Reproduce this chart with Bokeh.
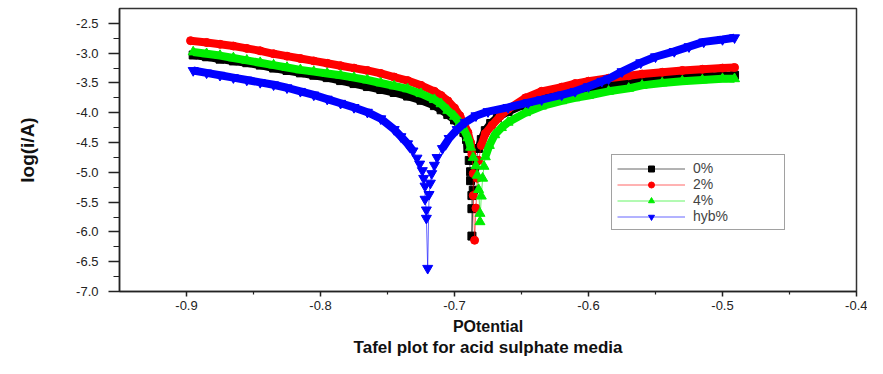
from bokeh.plotting import figure
from bokeh.models import (Range1d, FixedTicker, PrintfTickFormatter, Legend,
                          LegendItem, Title)
from bokeh.embed import file_html
from bokeh.resources import INLINE

# ---------------- data ----------------
series_names = ["0%", "2%", "4%", "hyb%"]

potential_0 = [-0.895, -0.885, -0.875, -0.865, -0.855, -0.845, -0.835, -0.825,
               -0.815, -0.805, -0.795, -0.785, -0.775, -0.765, -0.755, -0.745,
               -0.735, -0.725, -0.715, -0.710, -0.705, -0.700, -0.696, -0.693,
               -0.691, -0.690, -0.689, -0.688, -0.688, -0.687, -0.687, -0.687,
               -0.686, -0.685, -0.684, -0.682, -0.680, -0.677, -0.673, -0.668,
               -0.660, -0.650, -0.640, -0.630, -0.620, -0.610, -0.600, -0.590,
               -0.580, -0.570, -0.560, -0.550, -0.540, -0.530, -0.520, -0.510,
               -0.500, -0.491]
logi_0 = [-3.03, -3.06, -3.10, -3.13, -3.16, -3.20, -3.25, -3.29,
          -3.33, -3.37, -3.41, -3.46, -3.51, -3.56, -3.61, -3.66,
          -3.72, -3.79, -3.88, -3.95, -4.03, -4.12, -4.22, -4.33,
          -4.45, -4.60, -4.80, -4.99, -5.14, -5.39, -5.61, -6.07,
          -5.30, -5.00, -4.80, -4.60, -4.45, -4.30, -4.18, -4.08,
          -3.98, -3.88, -3.80, -3.73, -3.68, -3.63, -3.59, -3.56,
          -3.53, -3.50, -3.47, -3.45, -3.43, -3.41, -3.40, -3.39,
          -3.38, -3.37]

potential_2 = [-0.897, -0.885, -0.875, -0.865, -0.855, -0.845, -0.835, -0.825,
               -0.815, -0.805, -0.795, -0.785, -0.775, -0.765, -0.755, -0.745,
               -0.735, -0.725, -0.715, -0.710, -0.705, -0.700, -0.696, -0.693,
               -0.690, -0.688, -0.687, -0.686, -0.686, -0.685,
               -0.684, -0.683, -0.682, -0.680, -0.677, -0.672, -0.666, -0.660,
               -0.647, -0.635, -0.620, -0.610, -0.600, -0.585, -0.570, -0.560,
               -0.545, -0.530, -0.515, -0.500, -0.491]
logi_2 = [-2.79, -2.82, -2.85, -2.88, -2.92, -2.96, -3.01, -3.05,
          -3.09, -3.13, -3.17, -3.21, -3.25, -3.29, -3.34, -3.40,
          -3.46, -3.54, -3.64, -3.71, -3.80, -3.92, -4.05, -4.18,
          -4.33, -4.50, -4.70, -5.02, -5.39, -6.14,
          -5.60, -5.10, -4.80, -4.55, -4.35, -4.21, -4.06, -3.94,
          -3.75, -3.64, -3.57, -3.51, -3.47, -3.42, -3.38, -3.35,
          -3.32, -3.29, -3.27, -3.25, -3.24]

potential_4 = [-0.895, -0.885, -0.875, -0.865, -0.855, -0.845, -0.835, -0.825,
               -0.815, -0.805, -0.795, -0.785, -0.775, -0.765, -0.755, -0.745,
               -0.735, -0.725, -0.715, -0.710, -0.705, -0.700, -0.696, -0.693,
               -0.690, -0.688, -0.686, -0.684, -0.683, -0.682, -0.681, -0.681,
               -0.680, -0.679, -0.678, -0.677, -0.674, -0.670, -0.665, -0.660,
               -0.647, -0.635, -0.620, -0.610, -0.600, -0.585, -0.570, -0.560,
               -0.545, -0.530, -0.515, -0.500, -0.491]
logi_4 = [-2.98, -3.01, -3.04, -3.08, -3.12, -3.16, -3.20, -3.24,
          -3.28, -3.31, -3.34, -3.37, -3.41, -3.45, -3.50, -3.55,
          -3.60, -3.68, -3.78, -3.85, -3.96, -4.06, -4.17, -4.28,
          -4.42, -4.58, -4.75, -4.89, -5.05, -5.29, -5.69, -5.83,
          -5.40, -5.10, -4.90, -4.74, -4.55, -4.37, -4.25, -4.16,
          -4.00, -3.89, -3.80, -3.75, -3.71, -3.64, -3.59, -3.54,
          -3.50, -3.47, -3.45, -3.43, -3.43]

potential_h = [-0.895, -0.885, -0.875, -0.865, -0.855, -0.845, -0.835, -0.825,
               -0.815, -0.805, -0.795, -0.785, -0.775, -0.765, -0.755, -0.745,
               -0.740, -0.735, -0.731, -0.728, -0.726, -0.724, -0.723, -0.722,
               -0.722, -0.721, -0.721, -0.720,
               -0.719, -0.718, -0.717, -0.715, -0.713, -0.709, -0.704, -0.698,
               -0.692, -0.684, -0.675, -0.660, -0.645, -0.635, -0.620, -0.610,
               -0.600, -0.590, -0.585, -0.575, -0.561, -0.550, -0.536, -0.525,
               -0.514, -0.500, -0.491]
logi_h = [-3.29, -3.33, -3.37, -3.41, -3.45, -3.49, -3.53, -3.58,
          -3.64, -3.70, -3.77, -3.84, -3.91, -3.99, -4.10, -4.28,
          -4.40, -4.52, -4.64, -4.76, -4.86, -4.97, -5.10, -5.23,
          -5.45, -5.63, -5.77, -6.61,
          -5.37, -5.18, -5.02, -4.88, -4.75, -4.60, -4.43, -4.28,
          -4.16, -4.05, -3.98, -3.91, -3.83, -3.78, -3.70, -3.64,
          -3.56, -3.47, -3.43, -3.31, -3.16, -3.06, -2.97, -2.89,
          -2.81, -2.77, -2.74]

x_ticks = [-0.9, -0.8, -0.7, -0.6, -0.5, -0.4]
y_ticks = [-7.0, -6.5, -6.0, -5.5, -5.0, -4.5, -4.0, -3.5, -3.0, -2.5]

colors = ["#000000", "#ff0000", "#00ee00", "#0000ff"]
markers = ["square", "circle", "triangle", "inverted_triangle"]
marker_sizes = [8, 8, 10, 10]
xs = [potential_0, potential_2, potential_4, potential_h]
ys = [logi_0, logi_2, logi_4, logi_h]

FONT = "Liberation Sans"

p = figure(width=867, height=358, output_backend="svg", toolbar_location=None,
           x_range=Range1d(-0.95, -0.4), y_range=Range1d(-7.0, -2.25),
           min_border_left=119, min_border_right=11, min_border_top=8,
           min_border_bottom=61)
p.grid.visible = False
p.outline_line_color = "#333333"
p.outline_line_width = 1.5
p.background_fill_color = "white"
p.border_fill_color = "white"

items = []
for name, x, y, c, m, s in zip(series_names, xs, ys, colors, markers, marker_sizes):
    thick_y = [v if v > -4.75 else float("nan") for v in y]
    p.line(x, thick_y, line_width=8, line_color=c)
    thin = p.line(x, y, line_width=1, line_color=c, line_alpha=0.6)
    sc = p.scatter(x, y, marker=m, size=s, fill_color=c, line_color=c)
    items.append(LegendItem(label=name, renderers=[thin, sc]))

legend = Legend(items=items, location=(492, 61), orientation="vertical",
                border_line_color="#444444", border_line_width=1.5,
                padding=5, spacing=0, margin=0,
                glyph_width=68, glyph_height=15, label_height=15,
                label_standoff=8, label_width=86,
                label_text_font=FONT, label_text_font_size="14px",
                background_fill_color="white", background_fill_alpha=1.0)
p.add_layout(legend)

minor_x = [round((a + b) / 2, 3) for a, b in zip(x_ticks[:-1], x_ticks[1:])]
minor_y = [round((a + b) / 2, 3) for a, b in zip(y_ticks[:-1], y_ticks[1:])]

p.xaxis.ticker = FixedTicker(ticks=x_ticks, minor_ticks=minor_x)
p.yaxis.ticker = FixedTicker(ticks=y_ticks, minor_ticks=minor_y)
p.xaxis.formatter = PrintfTickFormatter(format="%.1f")
p.yaxis.formatter = PrintfTickFormatter(format="%.1f")

for ax in (p.xaxis[0], p.yaxis[0]):
    ax.axis_line_color = "#222222"
    ax.axis_line_width = 1.5
    ax.major_tick_line_color = "#222222"
    ax.minor_tick_line_color = "#222222"
    ax.major_tick_line_width = 1.5
    ax.minor_tick_line_width = 1.2
    ax.major_tick_in = 0
    ax.minor_tick_in = 0
    ax.major_label_text_font = FONT
    ax.major_label_text_font_size = "13px"
    ax.major_label_text_color = "#222222"
    ax.axis_label_text_font = FONT
    ax.axis_label_text_font_style = "bold"
    ax.axis_label_text_color = "#111111"

p.yaxis.major_tick_out = 11
p.yaxis.minor_tick_out = 6
p.yaxis.major_label_standoff = 10
p.yaxis.axis_label = "log(i/A)"
p.yaxis.axis_label_text_font_size = "19px"
p.yaxis.axis_label_standoff = 35

p.xaxis.major_tick_out = 5
p.xaxis.minor_tick_out = 3
p.xaxis.major_label_standoff = 4
p.xaxis.axis_label = "POtential"
p.xaxis.axis_label_text_font_size = "16px"
p.xaxis.axis_label_standoff = 5

p.add_layout(Title(text="Tafel plot for acid sulphate media", align="center",
                   vertical_align="top",
                   text_font=FONT, text_font_size="17px", text_font_style="bold",
                   text_color="#111111", standoff=0), "below")

open("out.html", "w").write(file_html(p, INLINE))
